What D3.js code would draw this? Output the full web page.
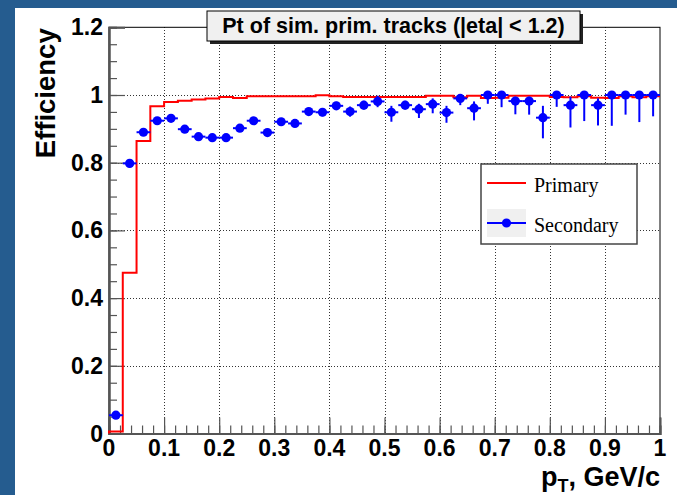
<!DOCTYPE html>
<html>
<head>
<meta charset="utf-8">
<script src="https://cdn.jsdelivr.net/npm/d3@7"></script>
<style>
  html, body { margin: 0; padding: 0; background: #ffffff; }
  svg { display: block; }
</style>
</head>
<body>
<svg id="chart" width="677" height="495"></svg>
<script>
// ---- data ---------------------------------------------------------------
// pT bin centres (GeV/c), bins of 0.025 GeV/c from 0 to 1
const ptCenters = [
  0.0125, 0.0375, 0.0625, 0.0875, 0.1125, 0.1375, 0.1625, 0.1875, 0.2125, 0.2375,
  0.2625, 0.2875, 0.3125, 0.3375, 0.3625, 0.3875, 0.4125, 0.4375, 0.4625, 0.4875,
  0.5125, 0.5375, 0.5625, 0.5875, 0.6125, 0.6375, 0.6625, 0.6875, 0.7125, 0.7375,
  0.7625, 0.7875, 0.8125, 0.8375, 0.8625, 0.8875, 0.9125, 0.9375, 0.9625, 0.9875
];
const binHalfWidth = 0.0125;

// efficiency of primary tracks (histogram)
const primaryEff = [
  0.006, 0.475, 0.864, 0.967, 0.979, 0.983, 0.987, 0.990, 0.994, 0.991,
  0.996, 0.996, 0.996, 0.996, 0.996, 0.999, 0.996, 0.994, 0.994, 0.994,
  0.994, 0.994, 0.994, 0.998, 0.998, 0.993, 0.998, 0.991, 0.992, 0.998,
  0.998, 0.998, 0.994, 0.993, 0.996, 0.992, 0.991, 0.996, 0.993, 0.996
];

// efficiency of secondary tracks with asymmetric errors
const secondaryEff = [
  0.054, 0.798, 0.890, 0.924, 0.931, 0.899, 0.877, 0.874, 0.874, 0.902,
  0.924, 0.889, 0.921, 0.916, 0.951, 0.949, 0.968, 0.951, 0.970, 0.981,
  0.949, 0.970, 0.958, 0.973, 0.948, 0.990, 0.961, 1.000, 1.000, 0.982,
  0.982, 0.933, 1.000, 0.970, 1.000, 0.970, 1.000, 1.000, 1.000, 1.000
];
const secondaryErrLow = [
  0.010, 0.012, 0.011, 0.010, 0.010, 0.010, 0.010, 0.010, 0.010, 0.010,
  0.010, 0.011, 0.010, 0.011, 0.011, 0.012, 0.012, 0.015, 0.013, 0.017,
  0.028, 0.013, 0.026, 0.027, 0.030, 0.020, 0.036, 0.026, 0.036, 0.039,
  0.040, 0.061, 0.035, 0.066, 0.077, 0.060, 0.091, 0.058, 0.080, 0.063
];
const secondaryErrHigh = [
  0.010, 0.012, 0.011, 0.010, 0.010, 0.010, 0.010, 0.010, 0.010, 0.010,
  0.010, 0.011, 0.010, 0.011, 0.011, 0.012, 0.012, 0.015, 0.013, 0.017,
  0.019, 0.013, 0.016, 0.017, 0.020, 0.010, 0.020, 0.000, 0.000, 0.013,
  0.013, 0.035, 0.000, 0.025, 0.000, 0.020, 0.000, 0.000, 0.000, 0.000
];

const xTickValues = [0, 0.1, 0.2, 0.3, 0.4, 0.5, 0.6, 0.7, 0.8, 0.9, 1];
const xTickLabels = ["0", "0.1", "0.2", "0.3", "0.4", "0.5", "0.6", "0.7", "0.8", "0.9", "1"];
const yTickValues = [0, 0.2, 0.4, 0.6, 0.8, 1.0, 1.2];
const yTickLabels = ["0", "0.2", "0.4", "0.6", "0.8", "1", "1.2"];

const titleText = "Pt of sim. prim. tracks (|eta| < 1.2)";
const yTitle = "Efficiency";
const legendLabels = ["Primary", "Secondary"];

// ---- layout -------------------------------------------------------------
const W = 677, H = 495;
const frame = { left: 109, right: 660, top: 27.3, bottom: 433.5 };
const sansBold = "'Liberation Sans', Arial, Helvetica, sans-serif";
const serif = "'Liberation Serif', 'Times New Roman', serif";
const red = "#ff0000", blue = "#0000ff", axisGrey = "#555555";

const svg = d3.select("#chart");

// canvas background with the coloured outer border
svg.append("rect").attr("x", 0).attr("y", 0).attr("width", W).attr("height", H).attr("fill", "#255c8f");
svg.append("rect").attr("x", 15).attr("y", 8).attr("width", W - 15).attr("height", H - 8).attr("fill", "#ffffff");

const x = d3.scaleLinear().domain([0, 1]).range([frame.left, frame.right]);
const y = d3.scaleLinear().domain([0, 1.2]).range([frame.bottom, frame.top]);

// ---- grid ---------------------------------------------------------------
const grid = svg.append("g").attr("stroke", "#333").attr("stroke-width", 1)
  .attr("stroke-dasharray", "1,2").attr("shape-rendering", "crispEdges");
xTickValues.filter(v => v > 0 && v < 1).forEach(v => {
  grid.append("line").attr("x1", Math.round(x(v)) + 0.5).attr("x2", Math.round(x(v)) + 0.5)
    .attr("y1", frame.top).attr("y2", frame.bottom);
});
yTickValues.filter(v => v > 0 && v < 1.2).forEach(v => {
  grid.append("line").attr("y1", Math.round(y(v)) + 0.5).attr("y2", Math.round(y(v)) + 0.5)
    .attr("x1", frame.left).attr("x2", frame.right);
});

// ---- frame --------------------------------------------------------------
svg.append("rect")
  .attr("x", frame.left).attr("y", frame.top)
  .attr("width", frame.right - frame.left).attr("height", frame.bottom - frame.top)
  .attr("fill", "none").attr("stroke", "#000").attr("stroke-width", 1);

// ---- axes (major + minor ticks drawn inward) ----------------------------
const xAxisMinor = d3.axisTop(x).tickValues(d3.range(0, 1.0001, 0.02)).tickSize(8).tickFormat("");
const xAxisMajor = d3.axisTop(x).tickValues(xTickValues).tickSize(16).tickFormat("");
const yAxisMinor = d3.axisRight(y).tickValues(d3.range(0, 1.2001, 0.05)).tickSize(8).tickFormat("");
const yAxisMajor = d3.axisRight(y).tickValues(yTickValues).tickSize(16).tickFormat("");

function styleAxis(g) {
  g.select(".domain").attr("stroke", axisGrey).attr("stroke-width", 2);
  g.selectAll(".tick line").attr("stroke", axisGrey).attr("stroke-width", 1.2);
}
svg.append("g").attr("transform", `translate(0,${frame.bottom})`).call(xAxisMinor).call(styleAxis);
svg.append("g").attr("transform", `translate(0,${frame.bottom})`).call(xAxisMajor).call(styleAxis);
svg.append("g").attr("transform", `translate(${frame.left},0)`).call(yAxisMinor).call(styleAxis);
svg.append("g").attr("transform", `translate(${frame.left},0)`).call(yAxisMajor).call(styleAxis);

// tick labels
const xLab = svg.append("g").attr("font-family", sansBold).attr("font-weight", "bold")
  .attr("font-size", 23).attr("fill", "#000").attr("text-anchor", "middle");
xTickValues.forEach((v, i) => {
  xLab.append("text").attr("x", x(v)).attr("y", frame.bottom + 22.5).text(xTickLabels[i]);
});
const yLab = svg.append("g").attr("font-family", sansBold).attr("font-weight", "bold")
  .attr("font-size", 23).attr("fill", "#000").attr("text-anchor", "end");
yTickValues.forEach((v, i) => {
  yLab.append("text").attr("x", frame.left - 6).attr("y", y(v) + 8).text(yTickLabels[i]);
});

// axis titles
svg.append("text")
  .attr("transform", `translate(55,${frame.top + 1}) rotate(-90)`)
  .attr("text-anchor", "end")
  .attr("font-family", sansBold).attr("font-weight", "bold").attr("font-size", 27.5)
  .text(yTitle);

const xt = svg.append("text")
  .attr("x", frame.right).attr("y", 486)
  .attr("text-anchor", "end")
  .attr("font-family", sansBold).attr("font-weight", "bold").attr("font-size", 27);
xt.append("tspan").text("p");
xt.append("tspan").attr("font-size", 18).attr("dy", 6).text("T");
xt.append("tspan").attr("dy", -6).text(", GeV/c");

// ---- primary efficiency histogram (step outline) ------------------------
const stepPts = [];
ptCenters.forEach((c, i) => {
  stepPts.push([c - binHalfWidth, primaryEff[i]]);
  stepPts.push([c + binHalfWidth, primaryEff[i]]);
});
stepPts.unshift([0, 0]);
const stepLine = d3.line().x(d => x(d[0])).y(d => y(d[1]));
svg.append("path").datum(stepPts)
  .attr("d", stepLine)
  .attr("fill", "none").attr("stroke", red).attr("stroke-width", 2)
  .attr("stroke-linejoin", "miter");

// ---- secondary efficiency points with error bars -----------------------
const sec = svg.append("g");
ptCenters.forEach((c, i) => {
  const v = secondaryEff[i];
  // horizontal bar over the bin
  sec.append("line")
    .attr("x1", x(c - binHalfWidth)).attr("x2", x(c + binHalfWidth))
    .attr("y1", y(v)).attr("y2", y(v))
    .attr("stroke", blue).attr("stroke-width", 2);
  // vertical asymmetric error
  sec.append("line")
    .attr("x1", x(c)).attr("x2", x(c))
    .attr("y1", y(v + secondaryErrHigh[i])).attr("y2", y(v - secondaryErrLow[i]))
    .attr("stroke", blue).attr("stroke-width", 2);
  sec.append("circle")
    .attr("cx", x(c)).attr("cy", y(v)).attr("r", 4.6)
    .attr("fill", blue);
});

// ---- title box ----------------------------------------------------------
const tb = { x: 207, y: 11, w: 373, h: 30 };
svg.append("rect").attr("x", tb.x + 3).attr("y", tb.y + 3).attr("width", tb.w).attr("height", tb.h)
  .attr("fill", "#222");
svg.append("rect").attr("x", tb.x).attr("y", tb.y).attr("width", tb.w).attr("height", tb.h)
  .attr("fill", "#f0f0f0").attr("stroke", "#000").attr("stroke-width", 1);
svg.append("text")
  .attr("x", tb.x + tb.w / 2).attr("y", tb.y + 22)
  .attr("text-anchor", "middle")
  .attr("font-family", sansBold).attr("font-weight", "bold").attr("font-size", 21.5)
  .text(titleText);

// ---- legend -------------------------------------------------------------
const lg = { x: 481, y: 164, w: 156, h: 80 };
svg.append("rect").attr("x", lg.x).attr("y", lg.y).attr("width", lg.w).attr("height", lg.h)
  .attr("fill", "#ffffff").attr("stroke", "#444").attr("stroke-width", 1.5);

// Primary entry
svg.append("line").attr("x1", 487).attr("x2", 526).attr("y1", 183).attr("y2", 183)
  .attr("stroke", red).attr("stroke-width", 2);
svg.append("text").attr("x", 534).attr("y", 192)
  .attr("font-family", serif).attr("font-size", 20).text(legendLabels[0]);

// Secondary entry
svg.append("rect").attr("x", 487).attr("y", 209).attr("width", 39).attr("height", 28)
  .attr("fill", "#f0f0f0");
svg.append("line").attr("x1", 487).attr("x2", 526).attr("y1", 223).attr("y2", 223)
  .attr("stroke", blue).attr("stroke-width", 2);
svg.append("circle").attr("cx", 506.5).attr("cy", 223).attr("r", 4.6).attr("fill", blue);
svg.append("text").attr("x", 534).attr("y", 232)
  .attr("font-family", serif).attr("font-size", 20).text(legendLabels[1]);
</script>
</body>
</html>
